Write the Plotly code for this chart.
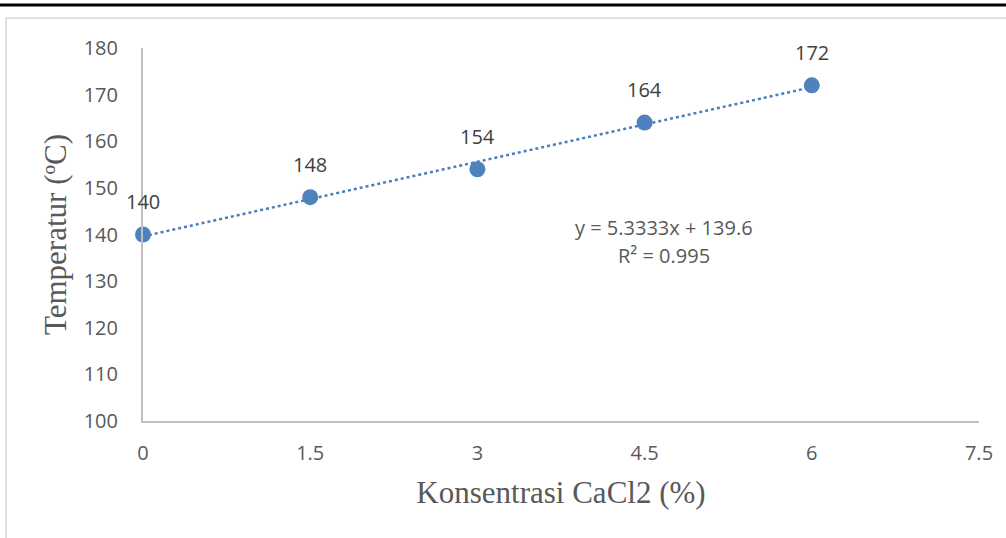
import plotly.graph_objects as go

# CaCl2 concentration (%) and measured temperature (ºC)
konsentrasi = [0, 1.5, 3, 4.5, 6]
temperatur = [140, 148, 154, 164, 172]

# Linear trendline coefficients
slope = 5.3333
intercept = 139.6
r_squared = 0.995

x_ticks = [0, 1.5, 3, 4.5, 6, 7.5]
x_tick_text = ["0", "1.5", "3", "4.5", "6", "7.5"]
y_ticks = [100, 110, 120, 130, 140, 150, 160, 170, 180]

trend_x = [konsentrasi[0], konsentrasi[-1]]
trend_y = [slope * x + intercept for x in trend_x]

sans = "Open Sans, Liberation Sans, sans-serif"
serif = "Liberation Serif, Times New Roman, serif"
tick_font = dict(family=sans, size=20, color="#595959")
title_font = dict(family=serif, size=31, color="#595959")

fig = go.Figure()

fig.add_trace(go.Scatter(
    x=trend_x, y=trend_y, mode="lines",
    line=dict(color="#4a7ebb", width=2.5, dash="dot"),
    hoverinfo="skip", showlegend=False, cliponaxis=False,
))

fig.add_trace(go.Scatter(
    x=konsentrasi, y=temperatur, mode="markers",
    marker=dict(color="#4f81bd", size=16),
    showlegend=False, cliponaxis=False,
))

# Value labels above each point
for xv, yv in zip(konsentrasi, temperatur):
    fig.add_annotation(
        x=xv, y=yv, xref="x", yref="y", text=str(yv),
        showarrow=False, yshift=33,
        font=dict(family=sans, size=20, color="#404040"),
    )

# Trendline equation and R² as two lines
fig.add_annotation(
    x=4.675, y=141.6, xref="x", yref="y",
    text=f"y = {slope}x + {intercept}",
    showarrow=False, align="center",
    font=dict(family=sans, size=20, color="#595959"),
)
fig.add_annotation(
    x=4.675, y=135.4, xref="x", yref="y",
    text=f"R² = {r_squared}",
    showarrow=False, align="center",
    font=dict(family=sans, size=20, color="#595959"),
)

# Page rule at the top and faint chart frame
W, PL, PR = 836, 143, 27
H, PB = 373, 421
fig.add_shape(type="line", xref="paper", yref="paper",
              x0=-PL/W, x1=1 + PR/W, y0=(PB-5)/H, y1=(PB-5)/H,
              line=dict(color="black", width=3))
fig.add_shape(type="line", xref="paper", yref="paper",
              x0=(6-PL)/W, x1=1 + PR/W, y0=(PB-18)/H, y1=(PB-18)/H,
              line=dict(color="#e0e0e0", width=2))
fig.add_shape(type="line", xref="paper", yref="paper",
              x0=(6-PL)/W, x1=(6-PL)/W, y0=(PB-18)/H, y1=-117/H,
              line=dict(color="#e0e0e0", width=2))

fig.update_layout(
    width=1006, height=538,
    margin=dict(l=143, r=27, t=48, b=117),
    paper_bgcolor="white", plot_bgcolor="white",
    xaxis=dict(
        range=[0, 7.5], tickvals=x_ticks, ticktext=x_tick_text,
        showgrid=False, zeroline=False,
        showline=True, linecolor="#bfbfbf", linewidth=2,
        ticks="", ticklabelstandoff=13, tickfont=tick_font,
        title=dict(text="Konsentrasi CaCl2 (%)", font=title_font, standoff=16),
    ),
    yaxis=dict(
        range=[100, 180], tickvals=y_ticks,
        showgrid=False, zeroline=False,
        showline=True, linecolor="#bfbfbf", linewidth=2,
        ticks="", ticklabelstandoff=19, tickfont=tick_font,
        title=dict(text="Temperatur (ºC)", font=title_font, standoff=8),
    ),
)

fig.write_html("out.html")
